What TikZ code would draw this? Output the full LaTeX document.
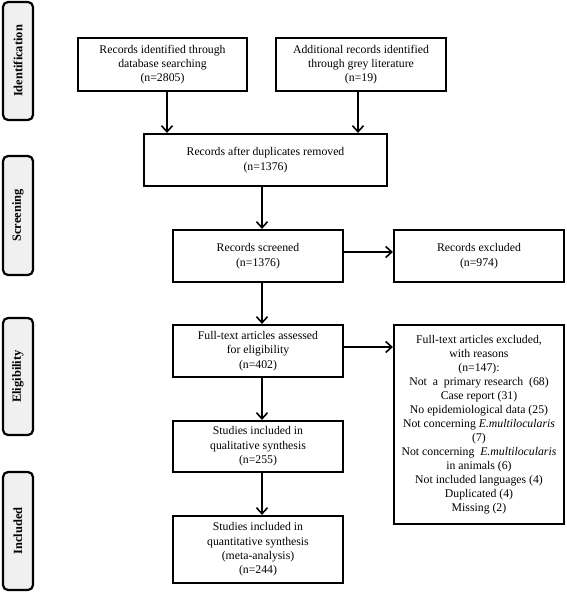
\documentclass[tikz,border=0pt]{standalone}
\usepackage{fontspec}
\setmainfont{Liberation Serif}
\usetikzlibrary{arrows.meta}
\begin{document}
\begin{tikzpicture}[x=1bp,y=-1bp,
 box/.style={draw,line width=2.2bp,inner sep=0pt,align=center,font=\fontsize{11.8}{14.4}\selectfont},
 phase/.style={draw,line width=2.2bp,rounded corners=5bp,fill=gray!12,inner sep=0pt,rotate=90,minimum height=30bp,font=\fontsize{12.5}{15}\selectfont\bfseries},
 arr/.style={line width=1.6bp,-{Straight Barb[length=6bp,width=11bp,line width=1.6bp]}}]
\useasboundingbox (0,0) rectangle (567,593);
% phases
\node[phase,minimum width=118bp] (pid) at (18,61) {Identification};
\node[phase,minimum width=119bp] (psc) at (18,215.5) {Screening};
\node[phase,minimum width=117bp] (pel) at (18,376.5) {Eligibility};
\node[phase,minimum width=118bp] (pin) at (18,531) {Included};
% boxes
\node[box,minimum width=169bp,minimum height=53bp] (b1) at (162.5,64.5) {Records identified through\\database searching\\(n=2805)};
\node[box,minimum width=170bp,minimum height=53bp] (b2) at (361,64.5) {Additional records identified\\through grey literature\\(n=19)};
\node[box,minimum width=243bp,minimum height=52bp] (b3) at (265.5,160) {Records after duplicates removed\\(n=1376)};
\node[box,minimum width=170bp,minimum height=52bp] (b4) at (258,256) {Records screened\\(n=1376)};
\node[box,minimum width=170bp,minimum height=52bp] (b5) at (479,256) {Records excluded\\(n=974)};
\node[box,minimum width=170bp,minimum height=52bp] (b6) at (258,351) {Full-text articles assessed\\for eligibility\\(n=402)};
\node[box,minimum width=170bp,minimum height=199bp,font=\fontsize{11.8}{14}\selectfont] (b7) at (479,424.5) {Full-text articles excluded,\\with reasons\\(n=147):\\Not~ a~ primary research~ (68)\\Case report (31)\\No epidemiological data (25)\\Not concerning \textit{E.multilocularis}\\(7)\\Not concerning~ \textit{E.multilocularis}\\in animals (6)\\Not included languages (4)\\Duplicated (4)\\Missing (2)};
\node[box,minimum width=170bp,minimum height=51bp] (b8) at (258,446.5) {Studies included in\\qualitative synthesis\\(n=255)};
\node[box,minimum width=170bp,minimum height=67bp] (b9) at (258,549.5) {Studies included in\\quantitative synthesis\\(meta-analysis)\\(n=244)};
% guide coordinates
\coordinate (c1) at (167,0);
\coordinate (c2) at (358,0);
\coordinate (cm) at (262,0);
\coordinate (r1) at (0,252);
\coordinate (r2) at (0,347);
% arrows
\draw[arr] (b1.south -| c1) -- (b3.north -| c1);
\draw[arr] (b2.south -| c2) -- (b3.north -| c2);
\draw[arr] (b3.south -| cm) -- (b4.north -| cm);
\draw[arr] (b4.south -| cm) -- (b6.north -| cm);
\draw[arr] (b6.south -| cm) -- (b8.north -| cm);
\draw[arr] (b8.south -| cm) -- (b9.north -| cm);
\draw[arr] (b4.east |- r1) -- (b5.west |- r1);
\draw[arr] (b6.east |- r2) -- (b7.west |- r2);
\end{tikzpicture}
\end{document}
